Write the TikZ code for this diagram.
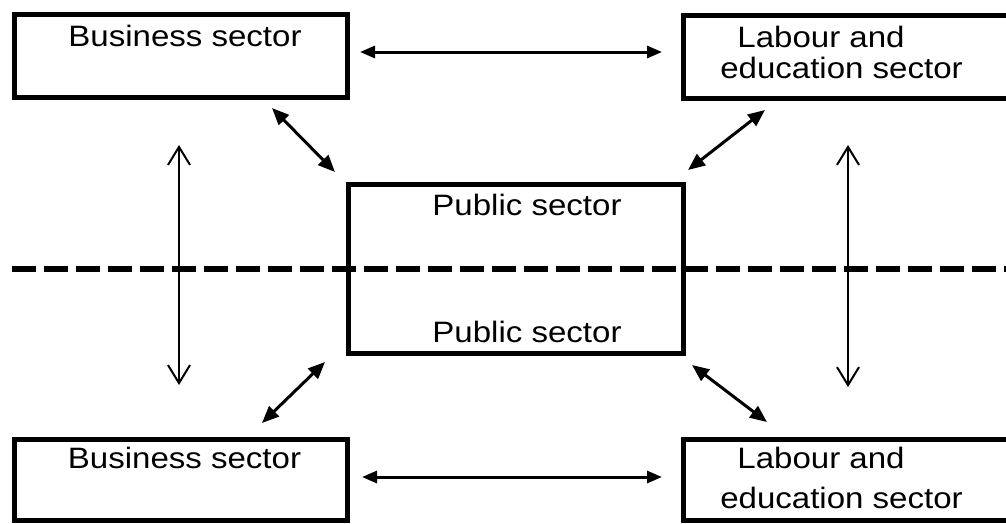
\documentclass[tikz,border=0pt]{standalone}
\usepackage{fontspec}
\setmainfont{Liberation Sans}
\usetikzlibrary{arrows.meta}
\newcommand{\wtext}[1]{\scalebox{1.12}[1]{#1}}
\begin{document}
\begin{tikzpicture}[x=1pt,y=-1pt,
  box/.style={draw, line width=5pt, inner sep=0pt, outer sep=0pt, rectangle},
  lbl/.style={inner sep=0pt, anchor=base, font=\fontsize{29.5}{35}\selectfont},
  bih/.style={line width=3pt, {Triangle[length=15pt,width=12pt]}-{Triangle[length=15pt,width=12pt]}},
  bid/.style={line width=3pt, {Triangle[length=17pt,width=14pt]}-{Triangle[length=17pt,width=14pt]}},
  biv/.style={line width=2pt, {Straight Barb[length=18pt,width=22pt]}-{Straight Barb[length=18pt,width=22pt]}},
  divider/.style={line width=5.5pt, dash pattern=on 24pt off 8pt}]
\clip (0,0) rectangle (1006,523);
% boxes
\node[box, minimum width=333pt, minimum height=83pt] (tl) at (181,56) {};
\node[box, minimum width=346.5pt, minimum height=83pt] (tr) at (856.75,56.5) {};
\node[box, minimum width=334.5pt, minimum height=169pt] (c) at (515.75,269) {};
\node[box, minimum width=333pt, minimum height=80.5pt] (bl) at (181,479.75) {};
\node[box, minimum width=346.5pt, minimum height=80.5pt] (br) at (856.75,479.75) {};
% dashed divider
\coordinate (d1) at (12,269);
\coordinate (d2) at (1012,269);
\draw[divider] (d1) -- (d2);
% labels
\node[lbl] (tltext) at (185,46) {\wtext{Business sector}};
\node[lbl] (trtexta) at (821,47) {\wtext{Labour and}};
\node[lbl] (trtextb) at (841.5,78) {\wtext{education sector}};
\node[lbl] (ctexta) at (527,215) {\wtext{Public sector}};
\node[lbl] (ctextb) at (527,342) {\wtext{Public sector}};
\node[lbl] (bltext) at (184.5,468) {\wtext{Business sector}};
\node[lbl] (brtexta) at (821,468) {\wtext{Labour and}};
\node[lbl] (brtextb) at (841.5,508) {\wtext{education sector}};
% horizontal arrows
\draw[bih] ([shift={(12.5,-4)}]tl.east) -- ([shift={(-21.5,-4.5)}]tr.west);
\draw[bih] ([shift={(14.5,-2.75)}]bl.east) -- ([shift={(-21.5,-2.75)}]br.west);
% vertical arrows
\draw[biv] ([shift={(-2,47.5)}]tl.south) -- ([shift={(-2,-54.5)}]bl.north);
\draw[biv] ([shift={(164.5,47)}]tr.south west) -- ([shift={(164.5,-52.5)}]br.north west);
% diagonal arrows
\draw[bid] ([shift={(-75.5,10.5)}]tl.south east) -- ([shift={(-13.5,-12.5)}]c.north west);
\draw[bid] ([shift={(81.5,12)}]tr.south west) -- ([shift={(5,-14.5)}]c.north east);
\draw[bid] ([shift={(-23.5,8.5)}]c.south west) -- ([shift={(-85.5,-16.5)}]bl.north east);
\draw[bid] ([shift={(9,11.5)}]c.south east) -- ([shift={(83.5,-17.5)}]br.north west);
\end{tikzpicture}
\end{document}
